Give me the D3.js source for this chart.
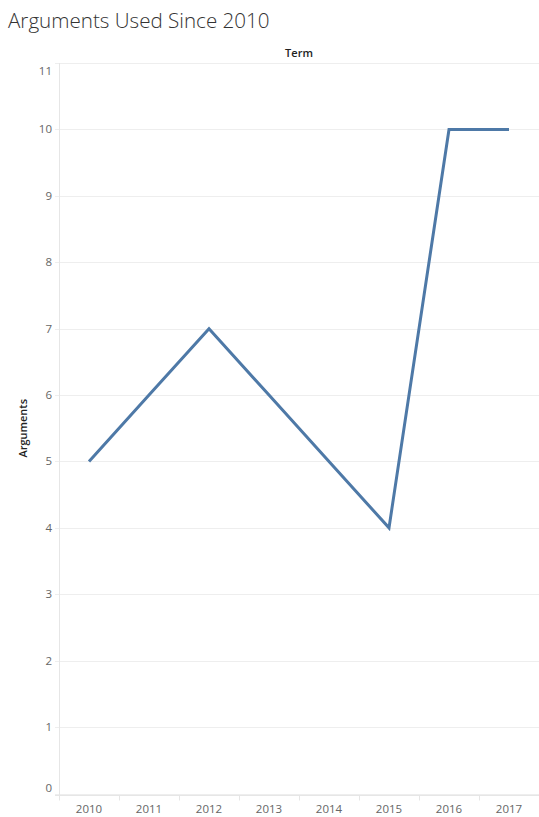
<!DOCTYPE html>
<html>
<head>
<meta charset="utf-8">
<script src="https://cdn.jsdelivr.net/npm/d3@7"></script>
<style>
  body { margin: 0; background: #fff; }
  text { font-family: "Open Sans", "Noto Sans", sans-serif; }
</style>
</head>
<body>
<svg id="chart" width="539" height="817"></svg>
<script>
var years = ['2010', '2011', '2012', '2013', '2014', '2015', '2016', '2017']
var argumentsUsed = [5, 6, 7, 6, 5, 4, 10, 10]
var yTicks = [0, 1, 2, 3, 4, 5, 6, 7, 8, 9, 10, 11]

var svg = d3.select('#chart')
var plotLeft = 59, plotRight = 539, plotTop = 63, plotBottom = 793.5

var x = d3.scaleBand().domain(years).range([plotLeft, plotRight])
var y = d3.scaleLinear().domain([0, 11]).range([plotBottom, plotTop])

svg.append('text')
  .attr('x', 8).attr('y', 28)
  .attr('font-size', 20.6).attr('font-weight', 300)
  .attr('fill', '#333')
  .text('Arguments Used Since 2010')

svg.append('text')
  .attr('x', (plotLeft + plotRight) / 2).attr('y', 57)
  .attr('text-anchor', 'middle')
  .attr('font-size', 11).attr('font-weight', 600)
  .attr('fill', '#222')
  .text('Term')

svg.append('text')
  .attr('transform', 'translate(27,' + y(5.5) + ') rotate(-90)')
  .attr('text-anchor', 'middle')
  .attr('font-size', 11).attr('font-weight', 600)
  .attr('fill', '#222')
  .text('Arguments')

// gridlines
svg.append('g')
  .selectAll('line')
  .data(yTicks)
  .enter()
  .append('line')
  .attr('x1', 55).attr('x2', plotRight)
  .attr('y1', function (d) { return Math.round(y(d)) + 0.5 })
  .attr('y2', function (d) { return Math.round(y(d)) + 0.5 })
  .attr('stroke', '#eeeeee')

// y axis line
svg.append('line')
  .attr('x1', plotLeft + 0.5).attr('x2', plotLeft + 0.5)
  .attr('y1', plotTop).attr('y2', 795)
  .attr('stroke', '#e6e6e6')

// y tick labels (end labels nudged inside the pane)
svg.append('g')
  .selectAll('text')
  .data(yTicks)
  .enter()
  .append('text')
  .attr('x', 52)
  .attr('y', function (d) {
    var off = d === 11 ? 12 : d === 0 ? -2 : 4
    return y(d) + off
  })
  .attr('text-anchor', 'end')
  .attr('font-size', 11.5)
  .attr('fill', '#666')
  .text(function (d) { return d })

// x axis
var xAxis = svg.append('g').attr('transform', 'translate(0,795.5)')
xAxis.append('line')
  .attr('x1', 55).attr('x2', plotRight)
  .attr('stroke', '#e6e6e6')
xAxis.selectAll('.sep')
  .data(years)
  .enter()
  .append('line')
  .attr('class', 'sep')
  .attr('x1', function (d) { return Math.round(x(d)) + 0.5 })
  .attr('x2', function (d) { return Math.round(x(d)) + 0.5 })
  .attr('y1', 0).attr('y2', 5)
  .attr('stroke', '#e6e6e6')
xAxis.selectAll('.lbl')
  .data(years)
  .enter()
  .append('text')
  .attr('class', 'lbl')
  .attr('x', function (d) { return x(d) + x.bandwidth() / 2 })
  .attr('y', 17)
  .attr('text-anchor', 'middle')
  .attr('font-size', 11.5)
  .attr('fill', '#666')
  .text(function (d) { return d })

var line = d3.line()
  .x(function (d, i) { return x(years[i]) + x.bandwidth() / 2 })
  .y(function (d) { return y(d) })

svg.append('path')
  .datum(argumentsUsed)
  .attr('d', line)
  .attr('fill', 'none')
  .attr('stroke', '#4e79a7')
  .attr('stroke-width', 3)
</script>
</body>
</html>
